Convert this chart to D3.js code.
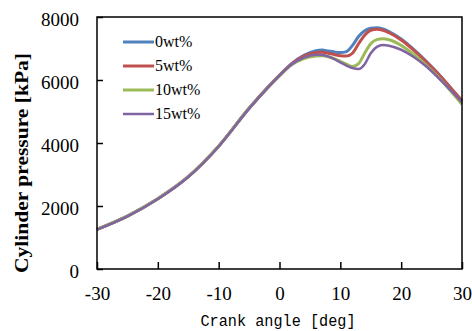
<!DOCTYPE html>
<html>
<head>
<meta charset="utf-8">
<script src="https://cdn.jsdelivr.net/npm/d3@7"></script>
<style>
  body { margin: 0; background: #fff; }
  svg { display: block; }
</style>
</head>
<body>
<div id="chart"></div>
<script>
// crank angle samples (deg)
const angles = [-30, -25, -20, -15, -10, -5, -2, 0, 2, 4, 6, 7, 8, 9, 10, 11, 12, 13, 14, 15, 16, 17, 18, 20, 22, 24, 26, 28, 30]

// cylinder pressure (kPa) per blend
const p0 = [1260, 1680, 2230, 2930, 3900, 5100, 5750, 6150, 6520, 6780, 6930, 6950, 6920, 6890, 6870, 6900, 7100, 7380, 7560, 7640, 7660, 7620, 7540, 7300, 6980, 6620, 6220, 5780, 5330]
const p5 = [1260, 1680, 2230, 2930, 3900, 5100, 5750, 6150, 6510, 6760, 6870, 6880, 6850, 6810, 6770, 6760, 6850, 7150, 7420, 7580, 7610, 7580, 7500, 7270, 6960, 6600, 6210, 5780, 5340]
const p10 = [1260, 1680, 2230, 2930, 3900, 5100, 5740, 6130, 6480, 6680, 6760, 6770, 6740, 6680, 6590, 6500, 6430, 6520, 6850, 7150, 7280, 7310, 7280, 7100, 6820, 6490, 6110, 5680, 5230]
const p15 = [1250, 1670, 2220, 2920, 3890, 5090, 5740, 6140, 6490, 6710, 6800, 6790, 6750, 6660, 6560, 6460, 6380, 6350, 6500, 6850, 7050, 7110, 7090, 6960, 6740, 6450, 6090, 5700, 5290]

const seriesNames = ['0wt%', '5wt%', '10wt%', '15wt%']
const seriesValues = [p0, p5, p10, p15]
const seriesColors = ['#4f81bd', '#c0504d', '#9bbb59', '#8064a2']

const xTicks = [-30, -20, -10, 0, 10, 20, 30]
const yTicks = [0, 2000, 4000, 6000, 8000]

const width = 472
const height = 331
const margin = {left: 97, right: 10, top: 17, bottom: 62}

const svg = d3.select('#chart')
  .append('svg')
  .attr('width', width)
  .attr('height', height)

const xScale = d3.scaleLinear()
  .domain([-30, 30])
  .range([margin.left, width - margin.right])

const yScale = d3.scaleLinear()
  .domain([0, 8000])
  .range([height - margin.bottom, margin.top])

const serif = "'Liberation Serif', 'Times New Roman', serif"

// curves
const line = d3.line()
  .x((d, i) => xScale(angles[i]))
  .y(d => yScale(d))
  .curve(d3.curveMonotoneX)

seriesValues.forEach(function(vals, k) {
  svg.append('path')
     .datum(vals)
     .attr('fill', 'none')
     .attr('stroke', seriesColors[k])
     .attr('stroke-width', k === 3 ? 2.5 : 3)
     .attr('d', line)
})

// axes
const xAxis = d3.axisBottom(xScale)
  .tickValues(xTicks)
  .tickSizeInner(-7)
  .tickSizeOuter(0)
  .tickPadding(18)
  .tickFormat(d3.format('d'))

const yAxis = d3.axisLeft(yScale)
  .tickValues(yTicks)
  .tickSizeInner(-6)
  .tickSizeOuter(0)
  .tickPadding(18)
  .tickFormat(d3.format('d'))

const gx = svg.append('g')
  .attr('transform', 'translate(0,' + (height - margin.bottom) + ')')
  .call(xAxis)

const gy = svg.append('g')
  .attr('transform', 'translate(' + margin.left + ',0)')
  .call(yAxis)

gx.select('.domain').remove()
gy.select('.domain').remove()
gx.selectAll('.tick line').attr('stroke', '#000').attr('stroke-width', 1.5)
gy.selectAll('.tick line').attr('stroke', '#000').attr('stroke-width', 1.5)
gx.selectAll('.tick text')
  .attr('font-family', serif)
  .attr('font-size', 19)
  .attr('fill', '#000')
  .text(d => d < 0 ? '-' + Math.abs(d) : d)
gy.selectAll('.tick text')
  .attr('font-family', serif)
  .attr('font-size', 19)
  .attr('fill', '#000')
  .attr('dy', '0.45em')

// frame
svg.append('rect')
   .attr('x', xScale(-30))
   .attr('y', yScale(8000))
   .attr('width', xScale(30) - xScale(-30))
   .attr('height', yScale(0) - yScale(8000))
   .attr('fill', 'none')
   .attr('stroke', '#000')
   .attr('stroke-width', 1.5)

// axis titles
svg.append('text')
   .attr('transform', 'translate(28,' + 163 + ') rotate(-90)')
   .attr('text-anchor', 'middle')
   .attr('font-family', serif)
   .attr('font-weight', 'bold')
   .attr('font-size', 18)
   .attr('textLength', 220)
   .attr('lengthAdjust', 'spacingAndGlyphs')
   .text('Cylinder pressure [kPa]')

svg.append('text')
   .attr('x', 278)
   .attr('y', 326)
   .attr('text-anchor', 'middle')
   .attr('font-family', "'Liberation Mono', 'DejaVu Sans Mono', monospace")
   .attr('font-size', 16)
   .attr('textLength', 155)
   .attr('lengthAdjust', 'spacingAndGlyphs')
   .text('Crank angle [deg]')

// legend
const legend = svg.append('g')
seriesNames.forEach(function(name, k) {
  const ly = 42 + k * 24
  legend.append('line')
        .attr('x1', 123).attr('x2', 154)
        .attr('y1', ly).attr('y2', ly)
        .attr('stroke', seriesColors[k])
        .attr('stroke-width', k === 3 ? 2.5 : 3)
  legend.append('text')
        .attr('x', 155)
        .attr('y', ly + 5)
        .attr('font-family', serif)
        .attr('font-size', 16)
        .text(name)
})
</script>
</body>
</html>
